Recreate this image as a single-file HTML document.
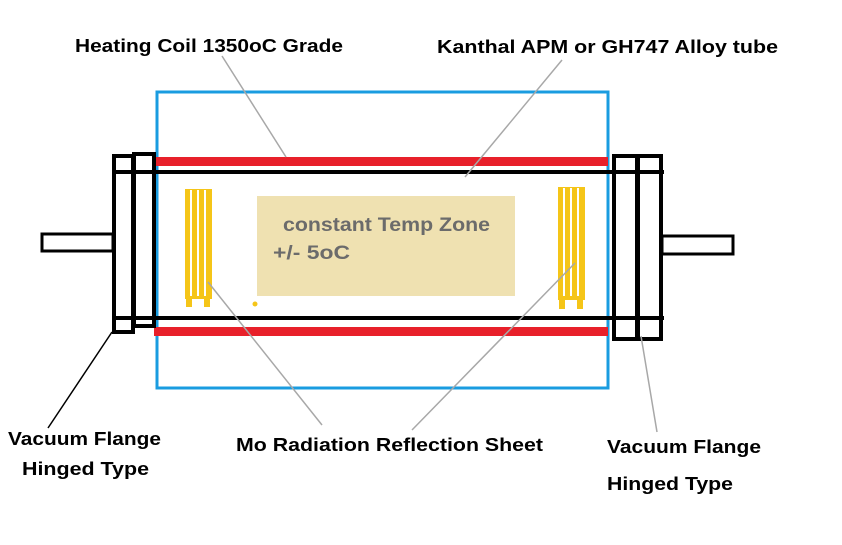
<!DOCTYPE html>
<html><head><meta charset="utf-8"><style>
html,body{margin:0;padding:0;background:#fff;width:842px;height:545px;overflow:hidden}
svg{display:block}
text{font-family:"Liberation Sans",sans-serif;font-weight:bold}
</style></head><body>
<svg width="842" height="545" viewBox="0 0 842 545">
<rect x="0" y="0" width="842" height="545" fill="#fff"/>
<rect x="157" y="92" width="451" height="296" fill="none" stroke="#1a9ce0" stroke-width="3"/>
<rect x="257" y="196" width="258" height="100" fill="#efe1b1"/>
<rect x="154" y="157" width="454" height="9" fill="#e8202a"/>
<rect x="154" y="327" width="454" height="9" fill="#e8202a"/>
<rect x="112" y="170" width="552" height="4" fill="#000"/>
<rect x="112" y="316" width="552" height="4" fill="#000"/>
<rect x="42" y="234" width="71" height="17" fill="#fff" stroke="#000" stroke-width="3"/>
<rect x="662" y="236" width="71" height="18" fill="#fff" stroke="#000" stroke-width="3"/>
<rect x="114" y="156" width="19" height="176" fill="none" stroke="#000" stroke-width="4"/>
<rect x="134" y="154" width="20" height="172" fill="none" stroke="#000" stroke-width="4"/>
<rect x="614" y="156" width="23" height="183" fill="none" stroke="#000" stroke-width="4"/>
<rect x="638" y="156" width="23" height="183" fill="none" stroke="#000" stroke-width="4"/>
<!-- yellow sheets -->
<g fill="#f5c518">
<rect x="185" y="189" width="27" height="110"/>
<rect x="186" y="298" width="6" height="9"/>
<rect x="204" y="298" width="6" height="9"/>
<rect x="558" y="187" width="27" height="113"/>
<rect x="559" y="299" width="6" height="10"/>
<rect x="577" y="299" width="6" height="10"/>
</g>
<g fill="#fff">
<rect x="190" y="190" width="2" height="106"/>
<rect x="197" y="190" width="2" height="106"/>
<rect x="204" y="190" width="2" height="106"/>
<rect x="563" y="188" width="2" height="108"/>
<rect x="570" y="188" width="2" height="108"/>
<rect x="577" y="188" width="2" height="108"/>
</g>
<circle cx="255" cy="304" r="2.5" fill="#f5c518"/>
<g stroke="#a8a8a8" stroke-width="1.5" fill="none">
<line x1="222" y1="56" x2="286" y2="157"/>
<line x1="562" y1="60" x2="465" y2="177"/>
<line x1="322" y1="425" x2="208" y2="282"/>
<line x1="412" y1="430" x2="575" y2="263"/>
<line x1="641" y1="336" x2="657" y2="432"/>
</g>
<line x1="112" y1="332" x2="48" y2="428" stroke="#000" stroke-width="1.5"/>
<text x="75" y="52" font-size="18" textLength="268" lengthAdjust="spacingAndGlyphs">Heating Coil 1350oC Grade</text>
<text x="437" y="53" font-size="18" textLength="341" lengthAdjust="spacingAndGlyphs">Kanthal APM or GH747 Alloy tube</text>
<text x="283" y="231" font-size="19" fill="#6b6b6b" textLength="207" lengthAdjust="spacingAndGlyphs">constant Temp Zone</text>
<text x="273" y="259" font-size="19" fill="#6b6b6b" textLength="77" lengthAdjust="spacingAndGlyphs">+/- 5oC</text>
<text x="8" y="445" font-size="18" textLength="153" lengthAdjust="spacingAndGlyphs">Vacuum Flange</text>
<text x="22" y="475" font-size="18" textLength="127" lengthAdjust="spacingAndGlyphs">Hinged Type</text>
<text x="236" y="451" font-size="18" textLength="307" lengthAdjust="spacingAndGlyphs">Mo Radiation Reflection Sheet</text>
<text x="607" y="453" font-size="18" textLength="154" lengthAdjust="spacingAndGlyphs">Vacuum Flange</text>
<text x="607" y="490" font-size="18" textLength="126" lengthAdjust="spacingAndGlyphs">Hinged Type</text>
</svg>
</body></html>
